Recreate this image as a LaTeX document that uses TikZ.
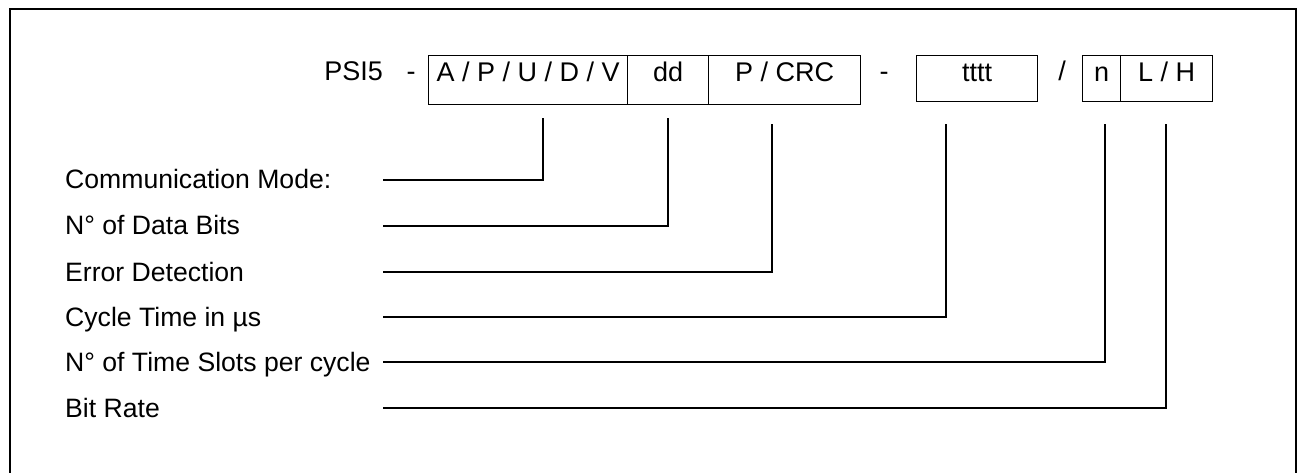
\documentclass[tikz,border=0pt]{standalone}
\usepackage{fontspec}
\setmainfont{Liberation Sans}
\begin{document}
\begin{tikzpicture}[x=1pt,y=-1pt,
  topfont/.style={font=\fontsize{27}{32}\selectfont},
  lblfont/.style={font=\fontsize{26.6}{31}\selectfont},
  field/.style={draw, line width=1.3pt, inner sep=0pt, topfont,
    minimum height=49pt, text height=26pt, text depth=23pt, anchor=north west},
  plain/.style={inner sep=0pt, topfont, anchor=base},
  label/.style={inner sep=0pt, lblfont, anchor=base west},
  conn/.style={line width=1.4pt}]
\useasboundingbox (0,0) rectangle (1301,473);
% outer frame
\draw[line width=2pt] (10,473) -- (10,9) -- (1296,9) -- (1296,473);
% top row
\node[plain, anchor=base east] (psi) at (383,81) {PSI5};
\node[plain] (d1) at (411,81) {-};
\node[field, minimum width=199pt] (b1) at (428,55) {A / P / U / D / V};
\node[field, minimum width=81pt] (b2) at (627,55) {dd};
\node[field, minimum width=152pt] (b3) at (708,55) {P / CRC};
\node[plain] (d2) at (884,81) {-};
\node[field, minimum width=121pt, minimum height=46pt, text depth=20pt] (b4) at (916,55) {tttt};
\node[plain] (sl) at (1062,81) {/};
\node[field, minimum width=38pt, minimum height=46pt, text depth=20pt] (b5) at (1082,55) {n};
\node[field, minimum width=92pt, minimum height=46pt, text depth=20pt] (b6) at (1120,55) {L / H};
% labels
\node[label] (l1) at (65,189) {Communication Mode:};
\node[label] (l2) at (65,235) {N° of Data Bits};
\node[label] (l3) at (65,281) {Error Detection};
\node[label] (l4) at (65,326) {Cycle Time in µs};
\node[label] (l5) at (65,371) {N° of Time Slots per cycle};
\node[label] (l6) at (65,417) {Bit Rate};
% connector ends
\coordinate (s1) at (383,180); \coordinate (t1) at (543,118);
\coordinate (s2) at (383,226); \coordinate (t2) at (668,118);
\coordinate (s3) at (383,272); \coordinate (t3) at (772,124);
\coordinate (s4) at (383,317); \coordinate (t4) at (946,124);
\coordinate (s5) at (383,362); \coordinate (t5) at (1105,124);
\coordinate (s6) at (383,408); \coordinate (t6) at (1166,124);
\foreach \i in {1,...,6} {\draw[conn] (s\i) -| (t\i);}
\end{tikzpicture}
\end{document}
